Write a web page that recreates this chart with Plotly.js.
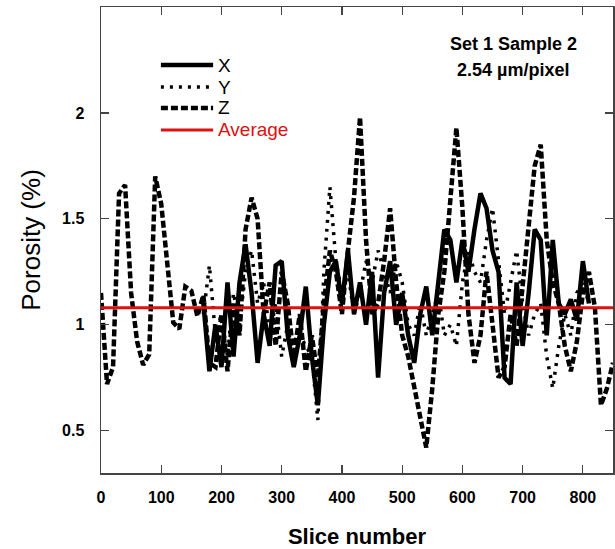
<!DOCTYPE html>
<html>
<head>
<meta charset="utf-8">
<script src="https://cdn.plot.ly/plotly-3.0.1.min.js"></script>
<style>html,body{margin:0;padding:0;background:#fff;}#chart{width:615px;height:549px;}</style>
</head>
<body>
<div id="chart"></div>
<script>
// Slice numbers (every 10th slice)
var sliceXY = [170,180,190,200,210,220,230,240,250,260,270,280,290,300,310,320,330,340,350,360,370,380,390,400,410,420,430,440,450,460,470,480,490,500,510,520,530,540,550,560,570,580,590,600,610,620,630,640,650,660,670,680,690,700,710,720,730,740,750,760,770,780,790,800,810];
var sliceZ = [0,10,20,30,40,50,60,70,80,90,100,110,120,130,140,150,160,170,180,190,200,210,220,230,240,250,260,270,280,290,300,310,320,330,340,350,360,370,380,390,400,410,420,430,440,450,460,470,480,490,500,510,520,530,540,550,560,570,580,590,600,610,620,630,640,650,660,670,680,690,700,710,720,730,740,750,760,770,780,790,800,810,820,830,840,850];

// Porosity (%) per slice
var porosityX = [1.10,0.78,1.00,0.80,1.20,0.85,1.20,1.38,1.15,0.82,1.05,0.90,1.28,1.30,0.95,0.80,0.95,1.18,0.85,0.62,1.00,1.25,1.30,1.10,1.35,1.05,1.20,1.00,1.25,0.75,1.15,1.30,1.00,1.15,0.95,0.82,1.05,1.18,0.95,1.20,1.45,1.40,1.20,1.40,1.25,1.45,1.62,1.55,1.35,1.25,0.75,0.72,1.20,0.90,1.15,1.45,1.40,0.95,1.40,1.10,1.05,1.12,1.02,1.30,1.10];
var porosityY = [1.05,1.28,0.95,1.05,0.85,1.15,1.00,1.25,1.35,1.10,1.20,0.95,1.10,0.85,1.00,0.80,0.95,0.90,0.85,0.55,1.25,1.65,1.30,1.15,1.25,1.05,1.15,1.30,1.20,1.35,1.25,1.15,1.30,1.20,1.00,0.95,1.10,0.95,1.05,1.15,0.95,1.00,0.90,1.20,1.35,1.25,1.20,1.40,1.55,1.30,1.05,1.20,1.35,1.10,0.95,1.05,1.10,0.85,0.70,0.90,1.05,0.95,1.15,1.20,1.10];
var porosityZ = [1.15,0.72,0.80,1.62,1.66,1.15,0.92,0.81,0.86,1.70,1.57,1.30,1.01,0.98,1.18,1.16,1.04,1.14,0.82,0.80,1.05,0.78,1.10,0.95,1.45,1.60,1.50,1.05,1.20,0.90,1.25,1.10,0.85,1.05,0.78,0.95,0.75,1.10,1.35,1.25,1.05,1.35,1.60,1.98,1.40,1.05,1.10,1.30,1.55,1.20,0.95,0.85,0.70,0.55,0.42,0.70,1.05,1.25,1.60,1.93,1.55,1.05,0.82,0.95,1.25,1.00,0.75,0.80,1.05,0.90,1.20,1.50,1.75,1.85,1.40,1.20,1.10,0.90,0.78,0.92,1.15,1.25,1.08,0.62,0.70,0.82];
var avgSlices = [0, 850];
var avgValue = [1.08, 1.08];

var seriesNames = ['X', 'Y', 'Z', 'Average'];
var noteLines = ['Set 1 Sample 2', '2.54 \u00b5m/pixel'];
var yTickVals = [0.5, 1, 1.5, 2, 2.5];
var yTickText = ['0.5', '1', '1.5', '2', '2.5'];

var FONT = '"Liberation Sans", Arial, sans-serif';
var RED = '#dd1111';

var styles = [
  {color: '#000', width: 4.5, dash: 'solid'},
  {color: '#000', width: 3.5, dash: '3px,6px'},
  {color: '#000', width: 4.5, dash: '7px,3px'},
  {color: RED, width: 3, dash: 'solid'}
];

var traces = [
  {x: sliceXY, y: porosityX, name: seriesNames[0], type: 'scatter', mode: 'lines', line: styles[0]},
  {x: sliceXY, y: porosityY, name: seriesNames[1], type: 'scatter', mode: 'lines', line: styles[1]},
  {x: sliceZ, y: porosityZ, name: seriesNames[2], type: 'scatter', mode: 'lines', line: styles[2]},
  {x: avgSlices, y: avgValue, name: seriesNames[3], type: 'scatter', mode: 'lines', line: styles[3]}
];

// Hand-drawn legend (paper coordinates) to match the compact original key
var legendY = [0.8755, 0.8283, 0.7833, 0.7361];
var shapes = [], annotations = [];
for (var i = 0; i < seriesNames.length; i++) {
  shapes.push({type: 'line', xref: 'paper', yref: 'paper', x0: 0.117, x1: 0.219,
               y0: legendY[i], y1: legendY[i], line: styles[i]});
  annotations.push({xref: 'paper', yref: 'paper', x: 0.224, y: legendY[i],
                    xanchor: 'left', yanchor: 'middle', showarrow: false,
                    text: seriesNames[i],
                    font: {family: FONT, size: 19, color: i === 3 ? RED : '#000'}});
}
annotations.push({xref: 'paper', yref: 'paper', x: 0.805, y: 0.921, xanchor: 'center', yanchor: 'middle',
                  showarrow: false, text: '<b>' + noteLines[0] + '</b>',
                  font: {family: FONT, size: 18, color: '#000'}});
annotations.push({xref: 'paper', yref: 'paper', x: 0.805, y: 0.865, xanchor: 'center', yanchor: 'middle',
                  showarrow: false, text: '<b>' + noteLines[1] + '</b>',
                  font: {family: FONT, size: 18, color: '#000'}});

var axisCommon = {
  showline: true, linecolor: '#444', linewidth: 1.5, mirror: 'ticks',
  ticks: 'inside', ticklen: 8, tickcolor: '#444', tickwidth: 1.2,
  showgrid: false, zeroline: false,
  tickfont: {family: FONT, size: 16, color: '#000', weight: 'bold'}
};

var layout = {
  width: 615, height: 549,
  margin: {l: 101, r: 2, t: 7, b: 76},
  paper_bgcolor: '#fff', plot_bgcolor: '#fff',
  showlegend: false,
  xaxis: Object.assign({}, axisCommon, {range: [0, 850], dtick: 100, tick0: 0, ticklabelstandoff: 9,
    title: {text: '<b>Slice number</b>', font: {family: FONT, size: 22, color: '#000'}, standoff: 26}}),
  yaxis: Object.assign({}, axisCommon, {range: [0.3, 2.5], tickmode: 'array',
    tickvals: yTickVals, ticktext: yTickText.map(function (t) { return t + '\u2002'; }),
    ticklabelstandoff: 4,
    title: {text: 'Porosity (%)', font: {family: FONT, size: 26, color: '#000'}, standoff: 14}}),
  shapes: shapes,
  annotations: annotations
};

Plotly.newPlot('chart', traces, layout, {displayModeBar: false, staticPlot: true});
</script>
</body>
</html>
